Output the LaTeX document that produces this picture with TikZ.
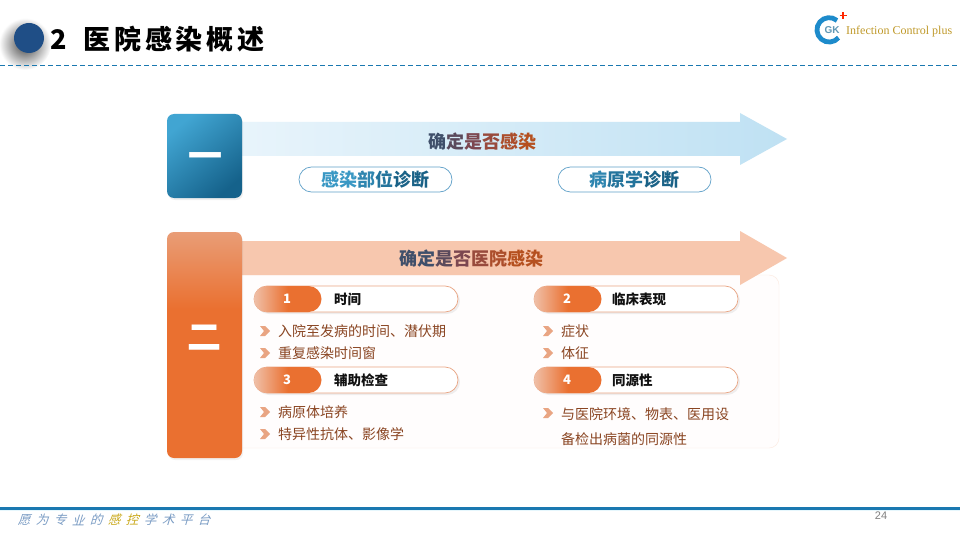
\documentclass[tikz,border=0pt]{standalone}
\usepackage{xcolor}
\usepackage{fontspec}
\usetikzlibrary{shadows,calc}
\setmainfont{Noto Sans CJK SC}
\newfontfamily\latinserif{Liberation Serif}
\newfontfamily\latinsans{Liberation Sans}
\newfontfamily\titlefont[LetterSpace=14]{Noto Sans CJK SC}
\newfontfamily\footfont[FakeSlant=0.3]{Noto Sans CJK SC}
\definecolor{rink}{HTML}{111111}
\definecolor{rnavy}{HTML}{1F4E86}
\definecolor{rline}{HTML}{1A78B0}
\definecolor{rblue}{HTML}{1A6A94}
\definecolor{rlogo}{HTML}{1D8BCB}
\definecolor{rskya}{HTML}{E8F4FB}
\definecolor{rskyb}{HTML}{BFE1F3}
\definecolor{rtopa}{HTML}{41A5D2}
\definecolor{rtopb}{HTML}{15628B}
\definecolor{rorange}{HTML}{EA7030}
\definecolor{rpeach}{HTML}{F7C7AE}
\definecolor{rchev}{HTML}{E9A583}
\definecolor{rnote}{HTML}{8A4522}
\definecolor{rgold}{HTML}{C09A2B}
\definecolor{rfoot}{HTML}{7A9CC4}
\definecolor{rfootb}{HTML}{C9A818}
\definecolor{gta}{HTML}{3F4F6A}
\definecolor{gtb}{HTML}{5A4A5C}
\definecolor{gtc}{HTML}{7C4750}
\definecolor{gtd}{HTML}{984A3C}
\definecolor{gte}{HTML}{AC4E2C}
\definecolor{gtf}{HTML}{B5501F}
\definecolor{bta}{HTML}{3A98C4}
\definecolor{btb}{HTML}{2F86B0}
\definecolor{btc}{HTML}{24749C}
\definecolor{btd}{HTML}{1A6287}
\pgfdeclarehorizontalshading{tabshade}{100bp}{color(0bp)=(rchev!70!white); color(25bp)=(rchev!70!white); color(50bp)=(rorange); color(100bp)=(rorange)}
\pgfdeclareverticalshading{barshade}{100bp}{color(0bp)=(rorange); color(58bp)=(rorange); color(75bp)=(rchev!85!rorange); color(100bp)=(rchev!85!rorange)}
\newcommand{\gradtext}[6]{\textcolor{gta}{#1}\textcolor{gtb}{#2}\textcolor{gtc}{#3}\textcolor{gtd}{#4}\textcolor{gte}{#5}\textcolor{gtf}{#6}}
\tikzset{
  softshadow/.style={drop shadow={shadow xshift=2pt,shadow yshift=-2pt,opacity=.12}},
  headtext/.style={font=\fontsize{18}{18}\selectfont\bfseries},
  outline/.style={draw=rline!70!white,line width=.7pt,fill=white,rounded corners=12.5pt},
  tablabel/.style={anchor=west,text=rink,font=\fontsize{13.5}{14}\selectfont\bfseries},
  notetext/.style={anchor=west,text=rnote,font=\fontsize{14}{14}\selectfont}
}
\begin{document}
\begin{tikzpicture}[x=1pt,y=-1pt]
  \useasboundingbox (0,0) rectangle (960,540);
  \fill[white] (0,0) rectangle (960,540);

  \shade[inner color=black!75,outer color=white] (25,44) circle (26);
  \fill[rnavy] (29,38) circle (15);
  \node[anchor=west,inner sep=0pt,text=black,font=\fontsize{27}{27}\selectfont\bfseries\titlefont] (title) at (50,39) {2\hspace{17pt}医院感染概述};
  \draw[draw=rline,line width=1pt,dash pattern=on 5pt off 3pt] (0,66) -- (960,66);

  \draw[draw=rlogo,line width=4.8pt] (837,20.5) arc[start angle=-50,end angle=-320,radius=12.2];
  \draw[draw=red!70!orange,line width=1.2pt] (839.5,15.5) -- (846.5,15.5) (843,12) -- (843,19);
  \node[inner sep=0pt,text=rblue!70!white,font=\fontsize{10}{10}\selectfont\bfseries\latinsans] (logotext) at (832,30) {GK};
  \node[anchor=west,inner sep=0pt,text=rgold,font=\fontsize{12}{12}\selectfont\latinserif] (logoname) at (846,31.5) {Infection Control plus};

  \shade[left color=rskya,right color=rskyb] (242,122) -- (740,122) -- (740,113) -- (787,139) -- (740,165) -- (740,156) -- (242,156) -- cycle;
  \shade[rounded corners=7pt,top color=rtopa,middle color=rtopb,bottom color=rtopb,shading angle=40,drop shadow={shadow xshift=1pt,shadow yshift=-2pt,opacity=.12}] (167,114) rectangle (242,198);
  \node[text=white,font=\fontsize{34}{34}\selectfont\bfseries] (numone) at (205,161) {一};
  \node[headtext] (headone) at (482,142) {\gradtext{确}{定}{是}{否}{感}{染}};
  \draw[outline] (299,167) rectangle (452,192);
  \draw[outline] (558,167) rectangle (711,192);
  \node[headtext] (diagone) at (375,180) {\textcolor{bta}{感染}\textcolor{btb}{部}\textcolor{btc}{位}\textcolor{btd}{诊断}};
  \node[headtext] (diagtwo) at (634,180) {\textcolor{btb}{病}\textcolor{btc}{原学}\textcolor{btd}{诊断}};

  \draw[rounded corners=10pt,draw=rpeach!40!white,fill=rpeach!3!white] (230,275) rectangle (779,448);
  \fill[rpeach] (242,241) -- (740,241) -- (740,231) -- (787,258) -- (740,285) -- (740,275) -- (242,275) -- cycle;
  \shade[rounded corners=7pt,shading=barshade,drop shadow={shadow xshift=1pt,shadow yshift=-2pt,opacity=.1}] (167,232) rectangle (242,458);
  \node[text=white,font=\fontsize{34}{34}\selectfont\bfseries] (numtwo) at (204,338) {二};
  \node[headtext] (headtwo) at (471,259) {\textcolor{gta}{确定}\textcolor{gtb}{是}\textcolor{gtc}{否}\textcolor{gtd}{医}\textcolor{gte}{院}\textcolor{gtf}{感染}};

  \foreach \i/\px/\py/\lx/\label in {1/254/286/80/时间,2/534/286/78/临床表现,3/254/367/80/辅助检查,4/534/367/78/同源性} {
    \draw[softshadow,draw=rchev,line width=.7pt,fill=white,rounded corners=13pt] (\px,\py) rectangle ++(204,26);
    \shade[rounded corners=13pt,shading=tabshade] (\px,\py) rectangle ++(67.5,26);
    \node[text=white,font=\fontsize{13}{13}\selectfont\bfseries] (tabnum\i) at ($(\px,\py)+(33,13)$) {\i};
    \node[tablabel,inner sep=0pt] (tablabel\i) at ($(\px,\py)+(\lx,13)$) {\label};
  }

  \foreach \cx/\cy in {260/331,260/353,260/412,260/434,543/331,543/353,543/413} {
    \fill[rchev,shift={(\cx,\cy)}] (0,-5) -- (5,-5) -- (10,0) -- (5,5) -- (0,5) -- (4,0) -- cycle;
  }
  \foreach \n/\nx/\ny/\note in {a/278/331/入院至发病的时间、潜伏期,b/278/353/重复感染时间窗,c/278/412/病原体培养,d/278/434/特异性抗体、影像学,e/561/331/症状,f/561/353/体征,g/561/414/与医院环境、物表、医用设,h/561/439/备检出病菌的同源性} {
    \node[notetext,inner sep=0pt] (note\n) at (\nx,\ny) {\note};
  }

  \fill[cyan!10!white] (0,510) rectangle (960,511);
  \fill[rline] (0,507) rectangle (960,510);
  \foreach \k/\ch/\col in {0/愿/rfoot,1/为/rfoot,2/专/rfoot,3/业/rfoot,4/的/rfoot,5/感/rfootb,6/控/rfootb,7/学/rfoot,8/术/rfoot,9/平/rfoot,10/台/rfoot} {
    \node[inner sep=0pt,text=\col,font=\fontsize{12.5}{13}\selectfont\footfont] (slogan\k) at ($(24,520)+(18*\k,0)$) {\ch};
  }
  \node[text=black!50,inner sep=0pt,font=\fontsize{11}{11}\selectfont\latinsans] (pagenum) at (881,516) {24};
\end{tikzpicture}
\end{document}
